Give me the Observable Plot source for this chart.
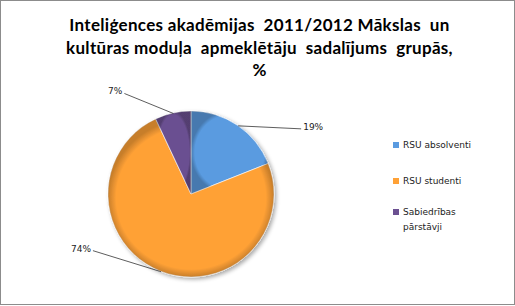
<!DOCTYPE html>
<html>
<head>
<meta charset="utf-8">
<script src="https://cdn.jsdelivr.net/npm/d3@7"></script>
<script src="https://cdn.jsdelivr.net/npm/@observablehq/plot@0.6"></script>
<style>
  html, body { margin: 0; padding: 0; background: #fff; }
  #frame { position: relative; width: 513px; height: 303px; border: 1px solid #8c8c8c; background: #fff; overflow: hidden; }
  #title { position: absolute; top: 13px; left: 2px; width: 513px; text-align: center; font-family: Lato, sans-serif; font-weight: bold; font-size: 17px; letter-spacing: 0.3px; line-height: 22.5px; color: #000; white-space: pre; }
  #chart { position: absolute; top: 85px; left: 0; }
  #legend { position: absolute; left: 392px; top: 137px; font-family: "DejaVu Sans", sans-serif; font-size: 9px; color: #222; }
  .item { position: absolute; left: 0; white-space: nowrap; line-height: 15px; }
  .sw { position: absolute; left: 0; top: 4px; width: 6px; height: 6px; }
  .lbl { position: absolute; left: 10px; }
</style>
</head>
<body>
<div id="frame">
  <div id="title"></div>
  <div id="chart"></div>
  <div id="legend"></div>
</div>
<script>
const titleLines = ["Inteliģences akadēmijas  2011/2012 Mākslas  un", "kultūras moduļa  apmeklētāju  sadalījums  grupās,", "%"];
const categories = ["RSU absolventi", "RSU studenti", "Sabiedrības pārstāvji"];
const legendLines = [["RSU absolventi"], ["RSU studenti"], ["Sabiedrības", "pārstāvji"]];
const values = [19, 74, 7];
const labels = ["19%", "74%", "7%"];
const colors = ["#5a9be0", "#ffa136", "#6b5091"];

document.getElementById("title").textContent = titleLines.join("\n");

// layout constants (pixels): leader-line end offsets relative to arc anchor
const leaderOffsets = [[63, 3], [-68, -21], [-49, -20]];
const R = 83; // radius in px
const pxPerUnit = R; // x/y domain [-1,1] spans 2R

const data = categories.map((c, i) => ({category: c, value: values[i], label: labels[i]}));
const arcs = d3.pie().sort(null).value(d => d.value)(data);
const labelData = arcs.map((a, i) => {
  const mid = (a.startAngle + a.endAngle) / 2;
  const ax = Math.sin(mid), ay = Math.cos(mid);
  const ex = ax + leaderOffsets[i][0] / pxPerUnit;
  const ey = ay - leaderOffsets[i][1] / pxPerUnit;
  return {label: a.data.label, ax, ay, ex, ey, right: leaderOffsets[i][0] > 0};
});

const cx = 190, cy = 108;
const pieMark = Plot.dot(data, {
  x: () => 0, y: () => 0, fill: "category",
  render(index, scales, values, dims, context) {
    const x0 = scales.x(0), y0 = scales.y(0);
    const r = scales.x(1) - scales.x(0);
    const g = d3.create("svg:g");
    const defs = g.append("defs");
    const f = defs.append("filter").attr("id", "shadow").attr("x", "-20%").attr("y", "-20%").attr("width", "140%").attr("height", "140%");
    f.append("feGaussianBlur").attr("in", "SourceAlpha").attr("stdDeviation", 2);
    f.append("feOffset").attr("dx", 2).attr("dy", 2).attr("result", "ob");
    f.append("feComponentTransfer").append("feFuncA").attr("type", "linear").attr("slope", 0.35);
    const m = f.append("feMerge");
    m.append("feMergeNode");
    m.append("feMergeNode").attr("in", "SourceGraphic");
    const rg = defs.append("radialGradient").attr("id", "bevel");
    rg.append("stop").attr("offset", "90%").attr("stop-color", "#000").attr("stop-opacity", 0);
    rg.append("stop").attr("offset", "100%").attr("stop-color", "#000").attr("stop-opacity", 0.22);
    const arc = d3.arc().innerRadius(0).outerRadius(r);
    const pie = g.append("g").attr("transform", `translate(${x0},${y0})`).attr("filter", "url(#shadow)");
    pie.selectAll("path.slice").data(arcs).join("path")
      .attr("class", "slice")
      .attr("d", arc)
      .attr("fill", d => scales.color(d.data.category))
      .attr("stroke", "#ffffff").attr("stroke-opacity", 0.6).attr("stroke-width", 1);
    pie.selectAll("path.shade").data(arcs).join("path")
      .attr("class", "shade")
      .attr("d", arc)
      .attr("fill", "url(#bevel)");
    return g.node();
  }
});

const chart = Plot.plot({
  width: 513,
  height: 218,
  margin: 0,
  x: {domain: [-1, 1], range: [cx - R, cx + R], axis: null},
  y: {domain: [-1, 1], range: [cy + R, cy - R], axis: null},
  color: {domain: categories, range: colors},
  style: {fontFamily: "DejaVu Sans, sans-serif", fontSize: "9px", color: "#222", background: "transparent"},
  marks: [
    pieMark,
    Plot.link(labelData, {x1: "ax", y1: "ay", x2: "ex", y2: "ey", stroke: "#333", strokeWidth: 0.8}),
    Plot.text(labelData.filter(d => d.right), {x: "ex", y: "ey", text: "label", textAnchor: "start", dx: 2, dy: -2, fill: "#222"}),
    Plot.text(labelData.filter(d => !d.right), {x: "ex", y: "ey", text: "label", textAnchor: "end", dx: -2, dy: -2, fill: "#222"})
  ]
});
document.getElementById("chart").appendChild(chart);

// legend
const legendTops = [0, 36, 67];
const legend = document.getElementById("legend");
categories.forEach((c, i) => {
  const item = document.createElement("div");
  item.className = "item";
  item.style.top = legendTops[i] + "px";
  const sw = document.createElement("div");
  sw.className = "sw";
  sw.style.background = colors[i];
  const lbl = document.createElement("div");
  lbl.className = "lbl";
  lbl.innerHTML = legendLines[i].map(s => s.replace(/&/g, "&amp;")).join("<br>");
  item.appendChild(sw);
  item.appendChild(lbl);
  legend.appendChild(item);
});
</script>
</body>
</html>
